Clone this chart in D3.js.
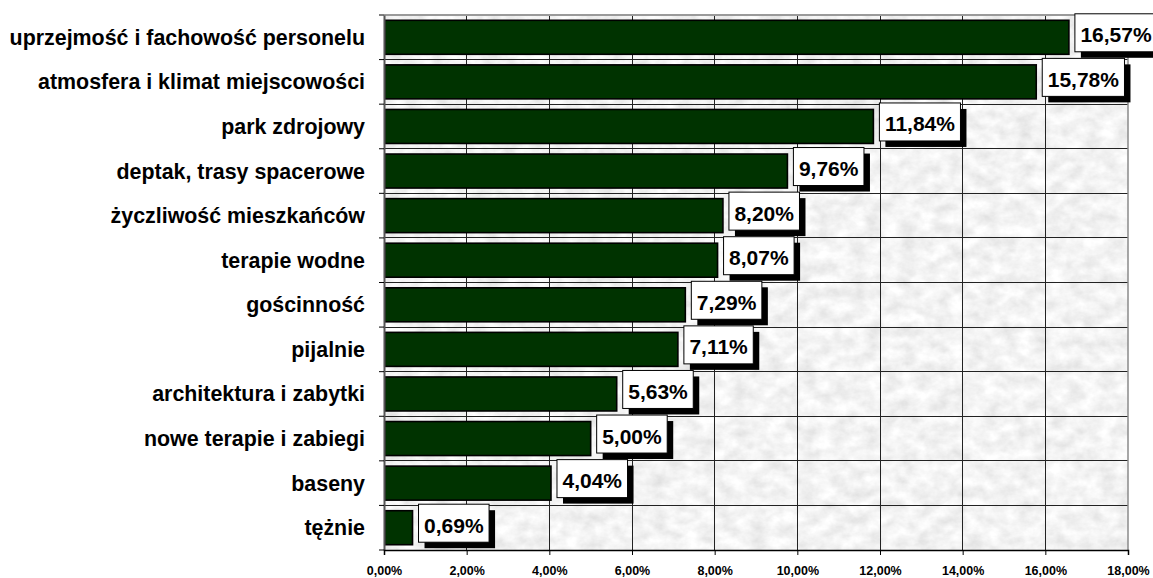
<!DOCTYPE html>
<html>
<head>
<meta charset="utf-8">
<script src="https://cdn.jsdelivr.net/npm/d3@7"></script>
<style>
  html, body { margin: 0; padding: 0; background: #ffffff; }
  svg { display: block; }
  text { font-family: "Liberation Sans", Arial, sans-serif; font-weight: bold; fill: #000; }
</style>
</head>
<body>
<svg id="chart" width="1153" height="578"></svg>
<script>
// Categories, top to bottom
const categories = [
  "uprzejmość i fachowość personelu",
  "atmosfera i klimat miejscowości",
  "park zdrojowy",
  "deptak, trasy spacerowe",
  "życzliwość mieszkańców",
  "terapie wodne",
  "gościnność",
  "pijalnie",
  "architektura i zabytki",
  "nowe terapie i zabiegi",
  "baseny",
  "tężnie"
];
// Share of answers, in percent
const values = [16.57, 15.78, 11.84, 9.76, 8.20, 8.07, 7.29, 7.11, 5.63, 5.00, 4.04, 0.69];
// Axis ticks, in percent
const tickValues = [0, 2, 4, 6, 8, 10, 12, 14, 16, 18];

const fmt = v => v.toFixed(2).replace(".", ",") + "%";

const svg = d3.select("#chart");
const plotL = 384, plotR = 1128, plotT = 15, plotB = 550;

const x = d3.scaleLinear().domain([0, 18]).range([plotL, plotR]);
const y = d3.scaleBand().domain(categories).range([plotT, plotB]).paddingInner(0).paddingOuter(0);
const rowH = y.bandwidth();
const barH = 34;

// Marble-like grey texture for the plot area
const defs = svg.append("defs");
const f = defs.append("filter").attr("id", "marble")
  .attr("x", 0).attr("y", 0).attr("width", 1).attr("height", 1);
f.append("feTurbulence").attr("type", "fractalNoise")
  .attr("baseFrequency", "0.06 0.08").attr("numOctaves", 4).attr("seed", 5);
f.append("feColorMatrix").attr("type", "matrix")
  .attr("values", "0.36 0 0 0 0.72  0.36 0 0 0 0.72  0.36 0 0 0 0.72  0 0 0 0 1");

svg.append("rect")
  .attr("x", plotL).attr("y", plotT).attr("width", plotR - plotL).attr("height", plotB - plotT)
  .attr("filter", "url(#marble)");

// Gridlines
const grid = svg.append("g");
grid.selectAll("line.v").data(tickValues.filter(t => t > 0 && t < 18)).join("line")
  .attr("x1", d => x(d)).attr("x2", d => x(d)).attr("y1", plotT).attr("y2", plotB)
  .attr("stroke", "#222").attr("stroke-width", 1).attr("shape-rendering", "crispEdges");
grid.selectAll("line.h").data(categories.slice(1)).join("line")
  .attr("x1", plotL).attr("x2", plotR).attr("y1", d => y(d)).attr("y2", d => y(d))
  .attr("stroke", "#222").attr("stroke-width", 1).attr("shape-rendering", "crispEdges");

// Plot frame (top and right)
svg.append("line").attr("x1", plotL).attr("x2", plotR).attr("y1", plotT).attr("y2", plotT)
  .attr("stroke", "#9a9a9a").attr("stroke-width", 2);
svg.append("line").attr("x1", plotR).attr("x2", plotR).attr("y1", plotT).attr("y2", plotB)
  .attr("stroke", "#8a8a8a").attr("stroke-width", 1.5);

// Bars
svg.append("g").selectAll("rect").data(values).join("rect")
  .attr("x", x(0) + 0.75)
  .attr("y", (d, i) => y(categories[i]) + rowH / 2 - barH / 2)
  .attr("width", d => x(d) - x(0) - 0.75)
  .attr("height", barH)
  .attr("fill", "#003300")
  .attr("stroke", "#000").attr("stroke-width", 1.6);

// Left axis
const yAxis = d3.axisLeft(y).tickSize(0).tickFormat("");
svg.append("g").attr("transform", `translate(${plotL},0)`).call(yAxis)
  .call(g => g.select(".domain").attr("stroke", "#555").attr("stroke-width", 2));
svg.append("g").selectAll("line").data(d3.range(categories.length + 1)).join("line")
  .attr("x1", plotL - 5).attr("x2", plotL)
  .attr("y1", i => plotT + i * rowH).attr("y2", i => plotT + i * rowH)
  .attr("stroke", "#000").attr("stroke-width", 1);

// Category labels
svg.append("g").selectAll("text").data(categories).join("text")
  .attr("x", plotL - 19)
  .attr("y", d => y(d) + rowH / 2 + 7.5)
  .attr("text-anchor", "end")
  .style("font-size", "21.4px")
  .text(d => d);

// Bottom axis
const xAxis = d3.axisBottom(x).tickValues(tickValues).tickSize(5).tickFormat(fmt);
const gx = svg.append("g").attr("transform", `translate(0,${plotB})`).call(xAxis);
gx.select(".domain").attr("stroke", "#000").attr("stroke-width", 1.5);
gx.selectAll(".tick line").attr("stroke", "#000");
gx.selectAll(".tick text")
  .attr("y", 25).attr("dy", 0)
  .style("font-family", '"Liberation Sans", Arial, sans-serif')
  .style("font-weight", "bold").style("font-size", "12.5px").attr("fill", "#000");

// Value labels: white box with black drop shadow
const lab = svg.append("g").selectAll("g").data(values).join("g");
lab.each(function (d, i) {
  const g = d3.select(this);
  const cy = y(categories[i]) + rowH / 2;
  const bx = x(d) + 6;
  const t = g.append("text")
    .attr("x", bx + 5.5).attr("y", cy + 5)
    .style("font-size", "21px")
    .text(fmt(d));
  const w = t.node().getComputedTextLength() + 11;
  const by = cy - 23.5, bh = 38;
  g.insert("rect", "text")
    .attr("x", bx).attr("y", by).attr("width", w).attr("height", bh)
    .attr("fill", "#fff").attr("stroke", "#000").attr("stroke-width", 1);
  g.insert("rect", ":first-child")
    .attr("x", bx + 6).attr("y", by + 6).attr("width", w).attr("height", bh)
    .attr("fill", "#000");
});
</script>
</body>
</html>
